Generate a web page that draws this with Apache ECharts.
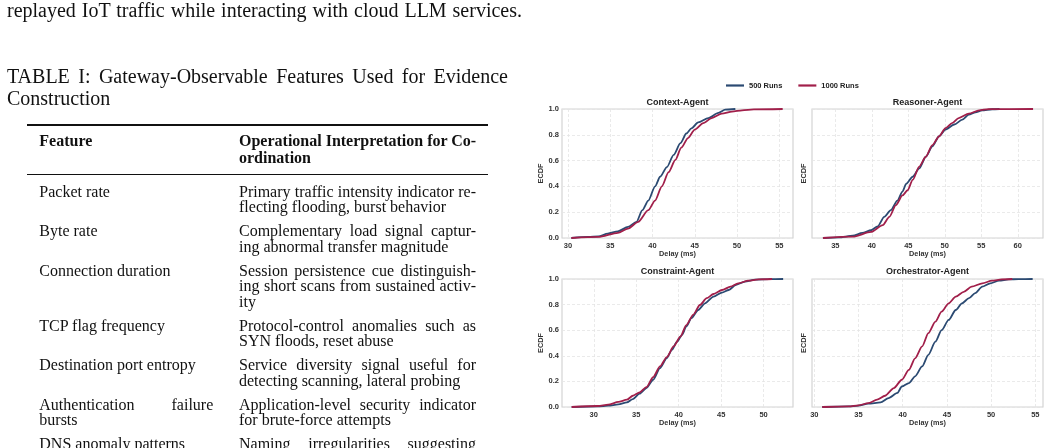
<!DOCTYPE html>
<html>
<head>
<meta charset="utf-8">
<script src="https://cdn.jsdelivr.net/npm/echarts@6/dist/echarts.min.js"></script>
<style>
  html, body { margin: 0; padding: 0; background: #fff; }
  #page { position: relative; width: 1050px; height: 448px; overflow: hidden; }
  #chart { position: absolute; left: 0; top: 0; width: 1050px; height: 448px; }
  #text { position: absolute; left: 0; top: 0; width: 530px; height: 448px; }
  .ln { position: absolute; white-space: nowrap; font-family: 'Liberation Serif', 'Times New Roman', serif; color: #111; line-height: 1; }
  .j { text-align: justify; text-align-last: justify; white-space: normal; }
  .rule { position: absolute; background: #111; }
</style>
</head>
<body>
<div id="page">
  <div id="chart"></div>
  <div id="text"></div>
</div>
<script>
// ---- data ----
const agentNames = ['Context-Agent', 'Reasoner-Agent', 'Constraint-Agent', 'Orchestrator-Agent']
const runLabels = ['500 Runs', '1000 Runs']

// delay (ms) / ECDF pairs, 500 runs and 1000 runs
const contextDelay500 = [30.4, 32.4, 33.6, 34.7, 35.9, 37.1, 38.1, 38.8, 39.5, 40.3, 40.9, 41.7, 42.5, 43.3, 44.0, 44.6, 45.4, 46.6, 47.8, 48.6, 49.8]
const contextEcdf500 = [0, 0.008, 0.013, 0.034, 0.052, 0.086, 0.125, 0.216, 0.29, 0.40, 0.475, 0.55, 0.644, 0.735, 0.81, 0.85, 0.896, 0.93, 0.97, 0.995, 1.0]
const contextDelay1000 = [30.4, 33.6, 35.9, 37.1, 38.3, 39.5, 40.3, 41.1, 41.9, 42.7, 43.4, 44.2, 45.0, 46.0, 47.0, 48.2, 49.4, 50.6, 52.0, 55.4]
const contextEcdf1000 = [0, 0.008, 0.04, 0.073, 0.125, 0.216, 0.29, 0.40, 0.51, 0.605, 0.70, 0.775, 0.84, 0.89, 0.93, 0.964, 0.98, 0.99, 0.997, 1.0]

const reasonerDelay500 = [33.3, 35.5, 37.4, 38.7, 39.9, 40.8, 41.7, 42.6, 43.5, 44.2, 44.7, 45.6, 46.5, 47.4, 48.3, 49.2, 50.1, 51.3, 52.4, 53.3, 54.2, 55.1, 56.5, 57.5]
const reasonerEcdf500 = [0, 0.005, 0.018, 0.039, 0.06, 0.09, 0.164, 0.216, 0.29, 0.36, 0.42, 0.475, 0.54, 0.63, 0.71, 0.787, 0.84, 0.88, 0.917, 0.956, 0.974, 0.99, 0.998, 1.0]
const reasonerDelay1000 = [33.3, 37.4, 39.9, 41.5, 42.4, 43.3, 44.2, 44.9, 45.6, 46.5, 47.4, 48.3, 49.2, 50.1, 51.0, 51.9, 53.3, 54.7, 56.0, 62.1]
const reasonerEcdf1000 = [0, 0.01, 0.047, 0.10, 0.164, 0.255, 0.33, 0.37, 0.45, 0.553, 0.63, 0.72, 0.787, 0.852, 0.89, 0.93, 0.964, 0.99, 0.999, 1.0]

const constraintDelay500 = [27.4, 30.5, 31.7, 32.9, 33.9, 34.6, 35.4, 36.2, 37.0, 37.8, 38.6, 39.2, 39.8, 40.4, 40.9, 41.5, 42.3, 43.1, 44.1, 45.1, 45.9, 46.7, 47.8, 49.0, 50.6, 52.3]
const constraintEcdf500 = [0, 0.005, 0.01, 0.02, 0.036, 0.062, 0.104, 0.148, 0.213, 0.304, 0.382, 0.447, 0.51, 0.564, 0.63, 0.694, 0.758, 0.81, 0.862, 0.894, 0.914, 0.953, 0.98, 0.995, 0.999, 1.0]
const constraintDelay1000 = [27.4, 30.5, 31.7, 32.9, 33.9, 34.6, 35.4, 36.2, 37.0, 37.8, 38.6, 39.4, 40.2, 40.9, 41.7, 42.5, 43.3, 44.1, 45.1, 46.1, 47.0, 48.2, 49.4, 51.0]
const constraintEcdf1000 = [0, 0.008, 0.018, 0.04, 0.057, 0.088, 0.114, 0.156, 0.234, 0.317, 0.39, 0.473, 0.55, 0.64, 0.72, 0.797, 0.85, 0.883, 0.914, 0.94, 0.966, 0.987, 0.997, 1.0]

const orchestratorDelay500 = [30.9, 33.9, 35.0, 36.1, 37.5, 38.4, 39.4, 39.9, 40.7, 41.4, 42.2, 42.9, 43.7, 44.4, 45.2, 46.0, 46.7, 47.5, 48.2, 49.0, 49.9, 50.9, 52.0, 53.1, 54.7]
const orchestratorEcdf500 = [0, 0.005, 0.01, 0.026, 0.036, 0.07, 0.11, 0.16, 0.187, 0.24, 0.317, 0.408, 0.51, 0.60, 0.68, 0.758, 0.81, 0.85, 0.89, 0.94, 0.966, 0.987, 0.997, 0.999, 1.0]
const orchestratorDelay1000 = [30.9, 33.9, 35.0, 36.1, 37.1, 38.0, 39.0, 39.9, 40.7, 41.4, 42.2, 42.9, 43.7, 44.4, 45.2, 46.0, 46.9, 47.8, 49.0, 50.1, 51.2, 52.4]
const orchestratorEcdf1000 = [0, 0.005, 0.013, 0.03, 0.057, 0.088, 0.148, 0.213, 0.29, 0.38, 0.473, 0.577, 0.667, 0.745, 0.81, 0.862, 0.90, 0.94, 0.966, 0.987, 0.997, 1.0]

// x tick labels per panel
const xTicks = [
  [30, 35, 40, 45, 50, 55],
  [35, 40, 45, 50, 55, 60],
  [30, 35, 40, 45, 50],
  [30, 35, 40, 45, 50, 55]
]
const xRanges = [[29.29, 56.62], [31.8, 63.46], [26.26, 53.46], [29.74, 55.87]]

// ---- table / page text ----
const bodyLine = 'replayed IoT traffic while interacting with cloud LLM services.'
const captionLines = ['TABLE I: Gateway-Observable Features Used for Evidence', 'Construction']
const headerFeature = ['Feature']
const headerInterp = ['Operational Interpretation for Co-', 'ordination']
const featureRows = [
  ['Packet rate'],
  ['Byte rate'],
  ['Connection duration'],
  ['TCP flag frequency'],
  ['Destination port entropy'],
  ['Authentication failure', 'bursts'],
  ['DNS anomaly patterns']
]
const interpRows = [
  ['Primary traffic intensity indicator re-', 'flecting flooding, burst behavior'],
  ['Complementary load signal captur-', 'ing abnormal transfer magnitude'],
  ['Session persistence cue distinguish-', 'ing short scans from sustained activ-', 'ity'],
  ['Protocol-control anomalies such as', 'SYN floods, reset abuse'],
  ['Service diversity signal useful for', 'detecting scanning, lateral probing'],
  ['Application-level security indicator', 'for brute-force attempts'],
  ['Naming irregularities suggesting', 'tunneling or exfiltration']
]

// ---- build the left text column ----
const textBox = document.getElementById('text')
function addLine(str, x, base, size, width, bold) {
  const d = document.createElement('div')
  d.className = 'ln' + (width ? ' j' : '')
  d.textContent = str
  d.style.left = x + 'px'
  d.style.top = (base - 0.8375 * size) + 'px'
  d.style.fontSize = size + 'px'
  if (width) d.style.width = width + 'px'
  if (bold) d.style.fontWeight = 'bold'
  textBox.appendChild(d)
}
function addRule(y, h) {
  const r = document.createElement('div')
  r.className = 'rule'
  r.style.left = '27px'
  r.style.width = '461px'
  r.style.top = y + 'px'
  r.style.height = h + 'px'
  textBox.appendChild(r)
}

addLine(bodyLine, 7, 16.8, 20, 515)
addLine(captionLines[0], 7, 82.3, 20, 501)
addLine(captionLines[1], 7, 104.3, 20)
addRule(124, 1.6)
addLine(headerFeature[0], 39.3, 146.7, 16, 0, true)
addLine(headerInterp[0], 239, 146.7, 16, 0, true)
addLine(headerInterp[1], 239, 163.3, 16, 0, true)
addRule(173.5, 1)

const lineStep = 15.5
const rowGap = 8.5
let base = 197.3
featureRows.forEach((feat, r) => {
  const interp = interpRows[r]
  feat.forEach((s, k) => {
    addLine(s, 39.3, base + k * lineStep, 16, k < feat.length - 1 ? 174 : 0)
  })
  interp.forEach((s, k) => {
    addLine(s, 239, base + k * lineStep, 16, k < interp.length - 1 ? 237 : 0)
  })
  base += Math.max(feat.length, interp.length) * lineStep + rowGap
})

// ---- chart ----
const blue = '#2b4a72'
const red = '#a11f4a'
const panels = [
  [contextDelay500, contextEcdf500, contextDelay1000, contextEcdf1000],
  [reasonerDelay500, reasonerEcdf500, reasonerDelay1000, reasonerEcdf1000],
  [constraintDelay500, constraintEcdf500, constraintDelay1000, constraintEcdf1000],
  [orchestratorDelay500, orchestratorEcdf500, orchestratorDelay1000, orchestratorEcdf1000]
]
const boxes = [
  { left: 562, top: 109, width: 231, height: 129 },
  { left: 812, top: 109, width: 231, height: 129 },
  { left: 562, top: 279, width: 231, height: 128 },
  { left: 812, top: 279, width: 231, height: 128 }
]
const sansFont = '"Liberation Sans", Arial, sans-serif'
const gridLine = { show: true, lineStyle: { color: '#e4e4e4', width: 0.8, type: [3, 2] } }

function zip(xs, ys) {
  return xs.map((x, i) => [x, ys[i]])
}

const chart = echarts.init(document.getElementById('chart'), null, { renderer: 'canvas' })
chart.setOption({
  animation: false,
  backgroundColor: 'transparent',
  legend: {
    data: runLabels,
    left: 721,
    top: 76.5,
    itemWidth: 18,
    itemHeight: 2.2,
    itemGap: 16,
    icon: 'rect',
    textStyle: { fontFamily: sansFont, fontWeight: 'bold', fontSize: 7.5, color: '#222' }
  },
  graphic: agentNames.map((name, i) => ({
    type: 'text',
    x: boxes[i].left + boxes[i].width / 2,
    y: i < 2 ? 102.5 : 272,
    style: {
      text: name,
      align: 'center',
      verticalAlign: 'middle',
      fontFamily: sansFont,
      fontWeight: 'bold',
      fontSize: 9,
      fill: '#222'
    }
  })),
  grid: boxes.map(b => ({
    left: b.left, top: b.top, width: b.width, height: b.height,
    show: true, borderColor: '#d4d4d4', borderWidth: 1.2, backgroundColor: 'transparent'
  })),
  xAxis: boxes.map((b, i) => ({
    type: 'value',
    gridIndex: i,
    min: xRanges[i][0],
    max: xRanges[i][1],
    name: 'Delay (ms)',
    nameLocation: 'middle',
    nameGap: 12.5,
    nameTextStyle: { fontFamily: sansFont, fontWeight: 'bold', fontSize: 7.3, color: '#333' },
    axisLine: { show: false },
    axisTick: { show: false, customValues: xTicks[i] },
    axisLabel: {
      customValues: xTicks[i],
      margin: 4,
      fontFamily: sansFont, fontWeight: 'bold', fontSize: 7.5, color: '#333',
      formatter: v => String(Math.round(v))
    },
    splitLine: gridLine
  })),
  yAxis: boxes.map((b, i) => ({
    type: 'value',
    gridIndex: i,
    min: 0,
    max: 1,
    interval: 0.2,
    name: 'ECDF',
    nameLocation: 'middle',
    nameGap: i % 2 === 0 ? 18 : 5,
    nameTextStyle: { fontFamily: sansFont, fontWeight: 'bold', fontSize: 7.3, color: '#333' },
    axisLine: { show: false },
    axisTick: { show: false },
    axisLabel: {
      show: i % 2 === 0,
      margin: 3,
      fontFamily: sansFont, fontWeight: 'bold', fontSize: 7.5, color: '#333',
      formatter: v => v.toFixed(1)
    },
    splitLine: gridLine
  })),
  series: panels.flatMap((p, i) => [
    {
      name: runLabels[0], type: 'line', xAxisIndex: i, yAxisIndex: i,
      data: zip(p[0], p[1]), symbol: 'none', showSymbol: false,
      smooth: 0.25, smoothMonotone: 'x',
      lineStyle: { color: blue, width: 1.8 }, itemStyle: { color: blue }, z: 2
    },
    {
      name: runLabels[1], type: 'line', xAxisIndex: i, yAxisIndex: i,
      data: zip(p[2], p[3]), symbol: 'none', showSymbol: false,
      smooth: 0.25, smoothMonotone: 'x',
      lineStyle: { color: red, width: 1.8 }, itemStyle: { color: red }, z: 3
    }
  ])
})
</script>
</body>
</html>
